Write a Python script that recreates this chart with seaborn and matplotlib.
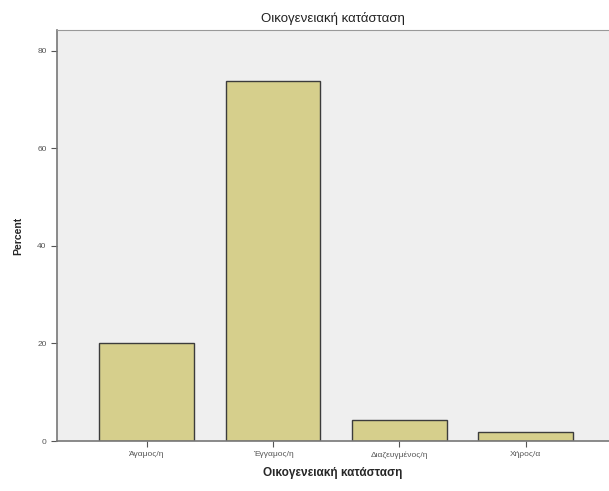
import pandas as pd
import seaborn as sns
import matplotlib.pyplot as plt

categories = ["Άγαμος/η", "Έγγαμος/η", "Διαζευγμένος/η", "Χήρος/α"]
percent = [20.0, 73.9, 4.3, 1.8]
y_ticks = [0, 20, 40, 60, 80]

df = pd.DataFrame({"status": categories, "percent": percent})

sns.set_style("ticks")
plt.rcParams["font.family"] = ["Liberation Sans", "DejaVu Sans"]

fig = plt.figure(figsize=(6.09, 4.91), dpi=100)
ax = fig.add_axes([57 / 609, 50 / 491, 552 / 609, 411 / 491])
ax.set_facecolor("#efefef")

sns.barplot(data=df, x="status", y="percent", color="#d6cf8c", saturation=1,
            width=0.75, edgecolor="#3c3c3c", linewidth=1.0, ax=ax)

ax.set_ylim(0, 84.3)
ax.set_xlim(-0.71, 3.66)
ax.set_yticks(y_ticks)
ax.tick_params(axis="both", labelsize=6, colors="#555555", length=4, width=0.8)
for s in ["left", "bottom"]:
    ax.spines[s].set_color("#777777")
    ax.spines[s].set_linewidth(1.2)
ax.spines["top"].set_color("#999999")
ax.spines["right"].set_visible(False)

ax.set_title("Οικογενειακή κατάσταση", fontsize=9.5, pad=6, color="#222222")
ax.set_xlabel("Οικογενειακή κατάσταση", fontsize=8.5, fontweight="bold", labelpad=6)
ax.set_ylabel("Percent", fontsize=7.5, fontweight="bold", labelpad=10)

fig.savefig("out.png", dpi=100)
